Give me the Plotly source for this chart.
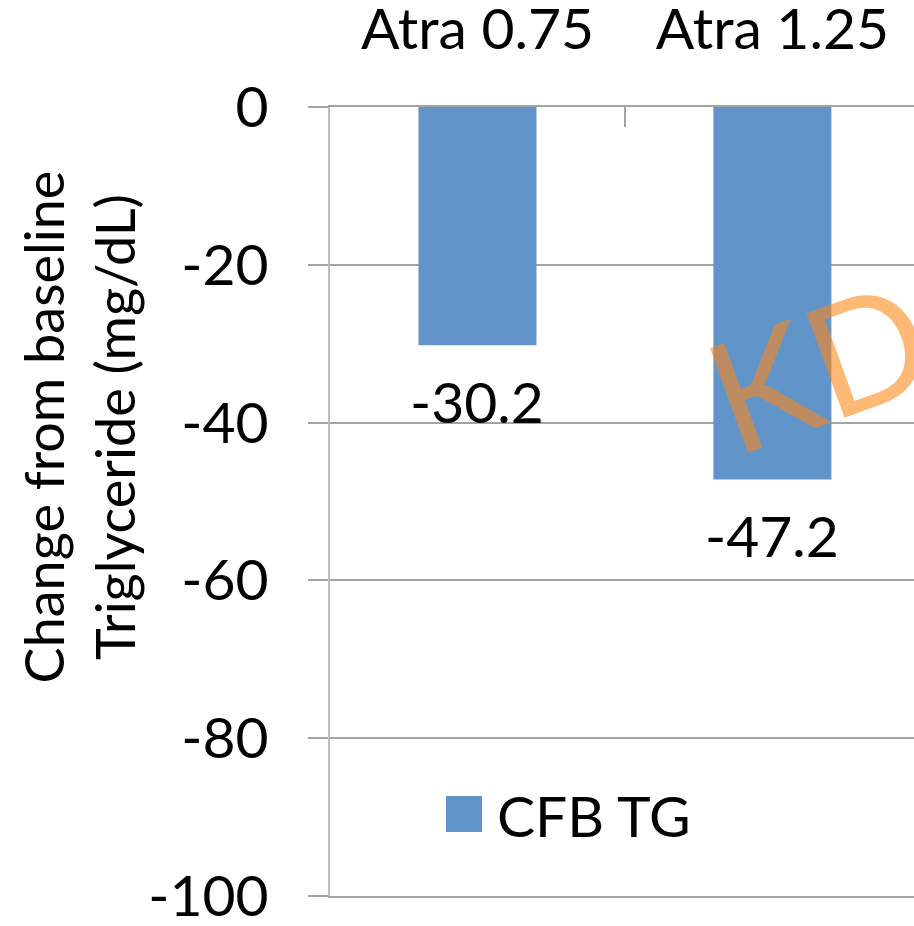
import plotly.graph_objects as go

categories = ["Atra 0.75", "Atra 1.25"]
cfb_tg = [-30.2, -47.2]
series_name = "CFB TG"
y_ticks = [0, -20, -40, -60, -80, -100]
y_title = "Change from baseline<br>Triglyceride (mg/dL)"
watermark = "KDI"

FONT = "Lato"
FS = 57
BAR_COLOR = "#6195C9"
GRID = "#A3A3A3"

W, H = 914, 926
L, T, B = 330, 107, 30
PW, PH = W - L, H - T - B

fig = go.Figure()
fig.add_trace(go.Bar(
    x=categories, y=cfb_tg, name=series_name,
    marker=dict(color=BAR_COLOR, line=dict(width=0)),
    width=0.4, showlegend=False,
))

# data labels
for c, v in zip(categories, cfb_tg):
    fig.add_annotation(x=c, y=v, xref="x", yref="y", text=f"{v:.1f}",
                       showarrow=False, yanchor="top", yshift=-20,
                       font=dict(family=FONT, size=FS, color="black"))

# watermark
fig.add_annotation(x=1.223, y=-31.5, xref="x", yref="y", text=watermark,
                   showarrow=False, textangle=-20,
                   font=dict(family=FONT, size=155, color="rgba(255,135,20,0.58)"))

# y-axis title
fig.add_annotation(x=-0.43, y=0.595, xref="paper", yref="paper", text=y_title,
                   showarrow=False, textangle=-90, xanchor="center", yanchor="middle",
                   font=dict(family=FONT, size=54, color="black"))

# legend (square + label)
fig.add_shape(type="rect", xref="paper", yref="paper",
              x0=116 / PW, x1=152 / PW,
              y0=64 / PH, y1=100 / PH,
              fillcolor=BAR_COLOR, line=dict(width=0))
fig.add_annotation(x=165 / PW, y=81 / PH, xref="paper", yref="paper",
                   text=series_name, showarrow=False, xanchor="left", yanchor="middle",
                   font=dict(family=FONT, size=FS, color="black"))

fig.update_layout(
    width=W, height=H,
    margin=dict(l=L, r=0, t=T, b=B, pad=0),
    plot_bgcolor="white", paper_bgcolor="white",
    font=dict(family=FONT, size=FS, color="black"),
    bargap=0.6,
    xaxis=dict(
        side="top", range=[-0.5, 1.48], type="category", automargin=False,
        showgrid=False, showline=True, mirror=True, linecolor=GRID, linewidth=2,
        ticks="inside", tickson="boundaries", ticklen=20, tickcolor=GRID, tickwidth=2,
        ticklabelstandoff=33, ticklabeloverflow="allow",
        tickfont=dict(family=FONT, size=FS, color="black"),
    ),
    yaxis=dict(
        range=[-100, 0], tickvals=y_ticks, ticktext=[str(t) for t in y_ticks],
        automargin=False,
        showgrid=True, gridcolor=GRID, gridwidth=2, zeroline=False,
        showline=True, linecolor="#BDBDBD", linewidth=2,
        ticks="outside", ticklen=20, tickcolor=GRID, tickwidth=2,
        ticklabelstandoff=28, ticklabeloverflow="allow",
        tickfont=dict(family=FONT, size=FS, color="black"),
    ),
)

fig.write_html("out.html", config={"displayModeBar": False},
               post_script="document.body.style.margin='0';")
